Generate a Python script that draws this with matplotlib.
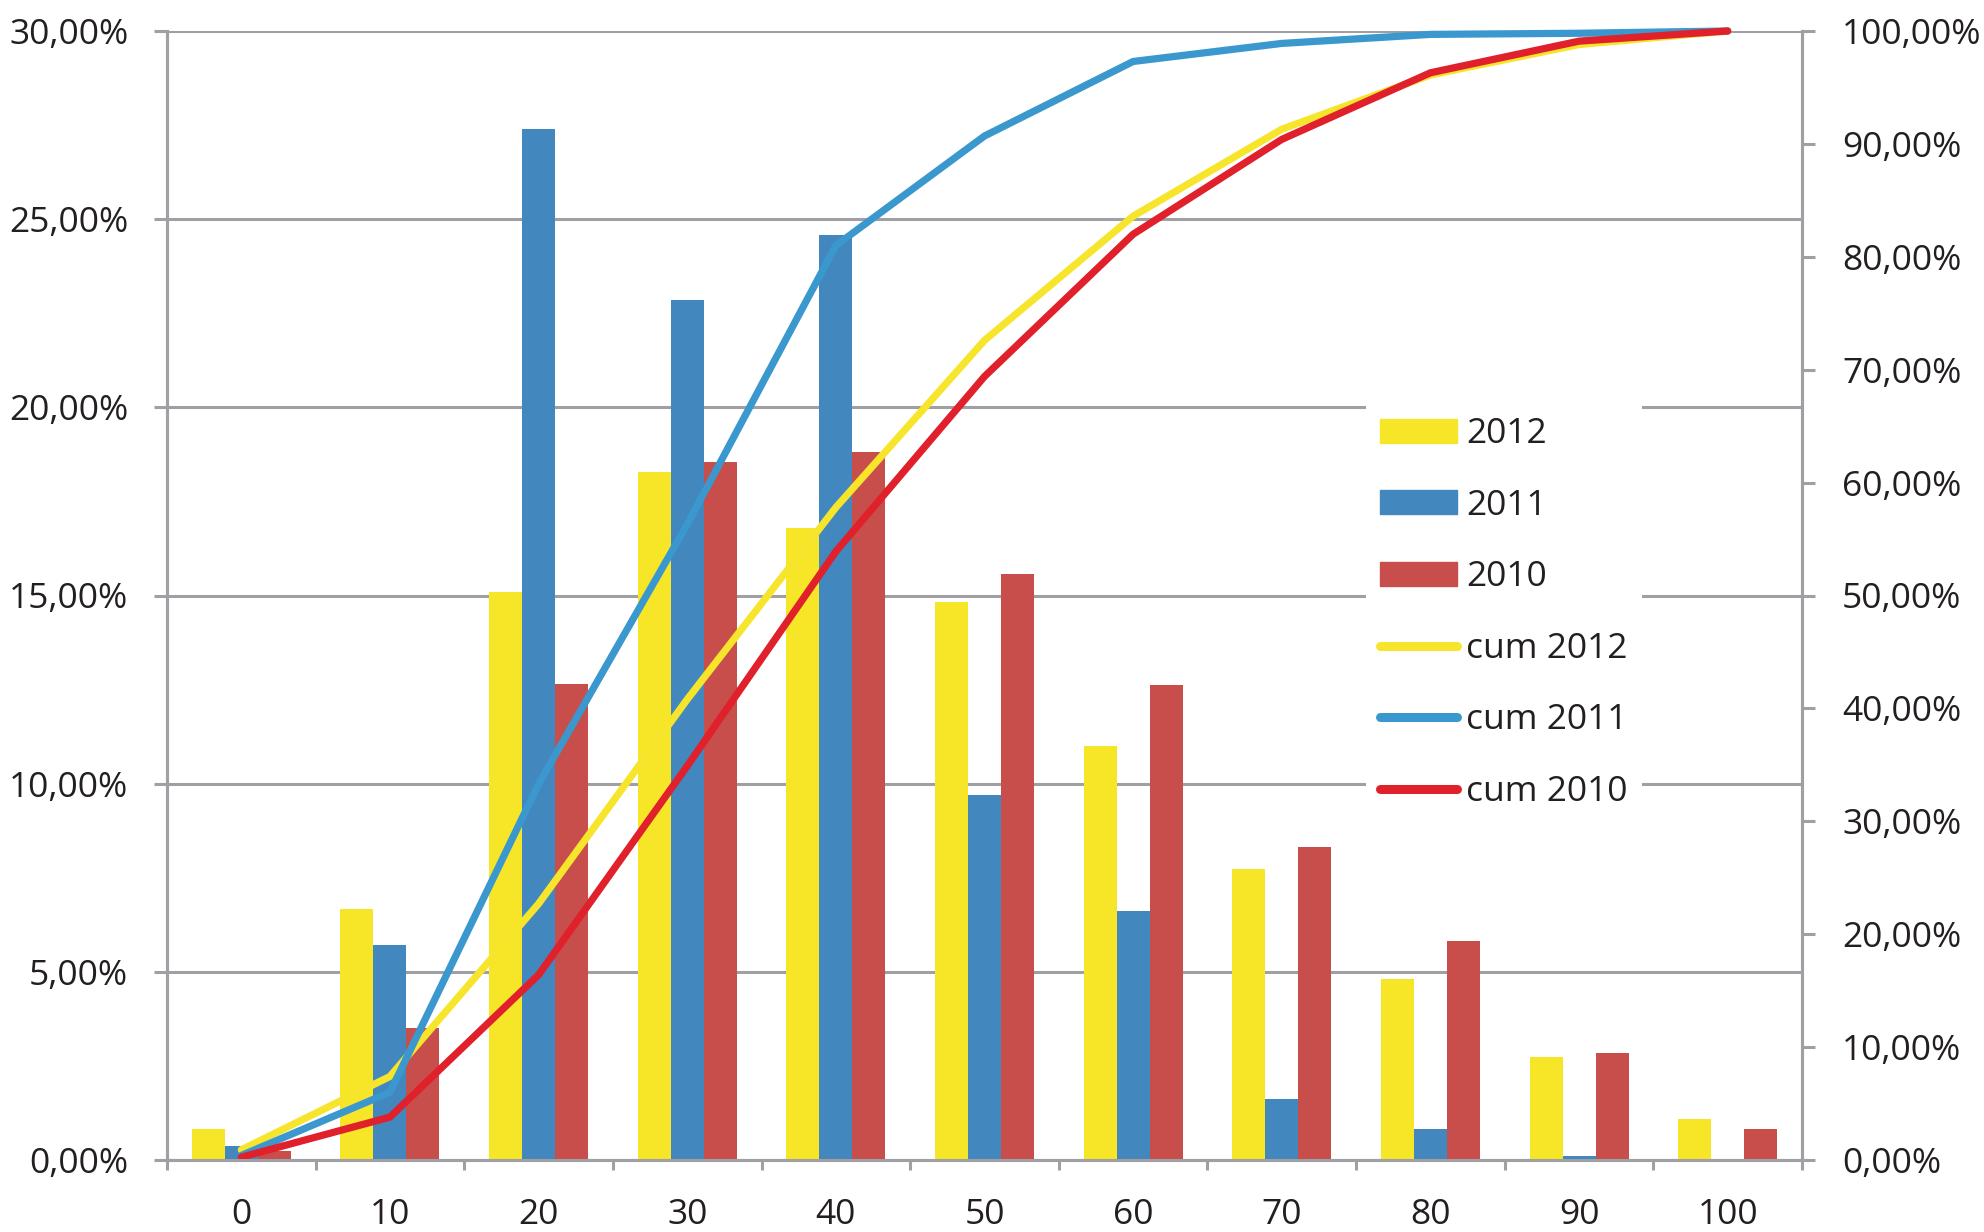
#!/usr/bin/env python3
"""Share per class (bars) and cumulative share (lines), 2010-2012."""

import numpy as np
import matplotlib
matplotlib.use("Agg")
import matplotlib.pyplot as plt
import matplotlib.ticker as mticker
from matplotlib.lines import Line2D
from matplotlib.patches import Patch

plt.rcParams["font.family"] = ["Open Sans", "DejaVu Sans"]

CATEGORIES = ["0", "10", "20", "30", "40", "50", "60", "70", "80", "90", "100"]

# share per class, in %
SHARE_2012 = [0.82, 6.66, 15.08, 18.27, 16.80, 14.83, 10.99, 7.73, 4.81, 2.73, 1.08]
SHARE_2011 = [0.37, 5.71, 27.39, 22.86, 24.57, 9.71, 6.62, 1.63, 0.82, 0.10, 0.0]
SHARE_2010 = [0.24, 3.52, 12.64, 18.55, 18.82, 15.58, 12.61, 8.32, 5.83, 2.83, 0.82]

# cumulative share, in % (right axis)
CUM_2012 = [0.9, 7.4, 22.7, 40.8, 57.8, 72.6, 83.6, 91.3, 96.1, 98.8, 100.0]
CUM_2011 = [0.4, 6.0, 33.3, 56.3, 81.0, 90.7, 97.3, 98.9, 99.7, 99.8, 100.0]
CUM_2010 = [0.25, 3.8, 16.4, 34.9, 53.9, 69.4, 82.0, 90.4, 96.3, 99.1, 100.0]

BAR_COLORS = {"2012": "#F7E628", "2011": "#4287BE", "2010": "#C74E4B"}
LINE_COLORS = {"cum 2012": "#F7E52C", "cum 2011": "#3A98CE", "cum 2010": "#E0202B"}
GRID = "#A0A0A4"
TEXT = "#231F20"
FS = 25.5


def pct(v, _):
    return f"{v:.2f}%".replace(".", ",")


fig = plt.figure(figsize=(19.84, 12.32), dpi=100)
ax = fig.add_axes([167 / 1984, 1 - 1160 / 1232, (1802 - 167) / 1984, (1160 - 31) / 1232])
ax2 = ax.twinx()

x = np.arange(len(CATEGORIES))
w = 0.222
ax.bar(x - w, SHARE_2012, w, color=BAR_COLORS["2012"], linewidth=0, zorder=2)
ax.bar(x, SHARE_2011, w, color=BAR_COLORS["2011"], linewidth=0, zorder=2)
ax.bar(x + w, SHARE_2010, w, color=BAR_COLORS["2010"], linewidth=0, zorder=2)

lw = 5.2
for label, vals in (("cum 2012", CUM_2012), ("cum 2011", CUM_2011), ("cum 2010", CUM_2010)):
    ax2.plot(x, vals, color=LINE_COLORS[label], lw=lw, solid_capstyle="round",
             solid_joinstyle="miter", clip_on=False)

# axes limits and scales
ax.set_xlim(-0.5, len(CATEGORIES) - 0.5)
ax.set_ylim(0, 30)
ax2.set_ylim(0, 100)
ax.yaxis.set_major_locator(mticker.MultipleLocator(5))
ax2.yaxis.set_major_locator(mticker.MultipleLocator(10))
ax.yaxis.set_major_formatter(mticker.FuncFormatter(pct))
ax2.yaxis.set_major_formatter(mticker.FuncFormatter(pct))

# category boundaries get ticks, centres get labels
ax.set_xticks(np.arange(-0.5, len(CATEGORIES), 1))
ax.set_xticklabels([])
ax.set_xticks(x, minor=True)
ax.set_xticklabels(CATEGORIES, minor=True)
ax.tick_params(axis="x", which="major", direction="out", length=7.5, width=2.2, color=GRID)
ax.tick_params(axis="x", which="minor", length=0, pad=27, labelsize=FS, labelcolor=TEXT)
ax.tick_params(axis="y", direction="out", length=9.4, width=2.2, color=GRID,
               pad=18.5, labelsize=FS, labelcolor=TEXT)
ax2.tick_params(axis="y", direction="out", length=9.4, width=2.2, color=GRID,
                pad=19.5, labelsize=FS, labelcolor=TEXT)

ax.yaxis.grid(True, color=GRID, lw=2.2)
ax.set_axisbelow(True)
for a in (ax, ax2):
    a.spines["top"].set_visible(False)
    for s in ("left", "right", "bottom"):
        a.spines[s].set_color(GRID)
        a.spines[s].set_linewidth(2.2)
ax2.patch.set_visible(False)

handles = [Patch(color=BAR_COLORS[k], label=k) for k in BAR_COLORS]
handles += [Line2D([], [], color=LINE_COLORS[k], lw=6.5, solid_capstyle="round", label=k)
            for k in LINE_COLORS]
leg = ax2.legend(handles=handles, loc="upper left",
                 bbox_to_anchor=(1366 / 1984, 1 - 403 / 1232), bbox_transform=fig.transFigure,
                 frameon=True, facecolor="white", edgecolor="none", framealpha=1,
                 fontsize=FS, handlelength=2.18, handleheight=0.68, handletextpad=0.25,
                 labelspacing=1.06, borderpad=0.4, borderaxespad=0, fancybox=False)
for t in leg.get_texts():
    t.set_color(TEXT)
leg.set_zorder(10)

fig.savefig("out.png", dpi=100, facecolor="white")
